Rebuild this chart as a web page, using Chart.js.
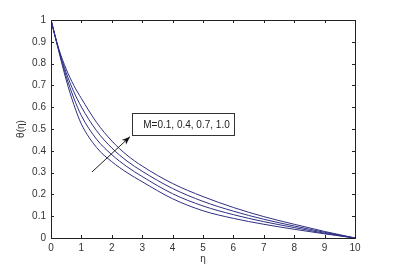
<!DOCTYPE html>
<html>
<head>
<meta charset="utf-8">
<script src="https://cdn.jsdelivr.net/npm/chart.js@4/dist/chart.umd.min.js"></script>
<style>
  html, body { margin: 0; padding: 0; background: #fff; }
</style>
</head>
<body>
<canvas id="chart" width="393" height="268"></canvas>
<script>
// eta values and the four theta(eta) curves (top to bottom)
const eta = [0, 0.25, 0.5, 0.75, 1, 1.5, 2, 2.5, 3, 4, 5, 6, 7, 8, 9, 10];
const theta_1 = [1, 0.87, 0.775, 0.70, 0.64, 0.53, 0.445, 0.38, 0.33, 0.25, 0.19, 0.14, 0.098, 0.063, 0.03, 0];
const theta_2 = [1, 0.867, 0.758, 0.671, 0.601, 0.492, 0.413, 0.353, 0.306, 0.227, 0.168, 0.123, 0.086, 0.055, 0.026, 0];
const theta_3 = [1, 0.863, 0.742, 0.642, 0.561, 0.453, 0.382, 0.327, 0.282, 0.203, 0.147, 0.107, 0.075, 0.048, 0.022, 0];
const theta_4 = [1, 0.86, 0.725, 0.6125, 0.5225, 0.415, 0.35, 0.30, 0.258, 0.18, 0.125, 0.09, 0.063, 0.04, 0.019, 0];
const all_curves = [theta_1, theta_2, theta_3, theta_4];

const x_ticks = [0, 1, 2, 3, 4, 5, 6, 7, 8, 9, 10];
const y_ticks = [0, 0.1, 0.2, 0.3, 0.4, 0.5, 0.6, 0.7, 0.8, 0.9, 1];

// annotation, in data units
const note_text = 'M=0.1, 0.4, 0.7, 1.0';
const note_box = { x0: 2.66, x1: 6.02, y0: 0.472, y1: 0.573 };
const note_arrow = { x0: 1.35, y0: 0.303, x1: 2.6, y1: 0.465 };

const line_color = '#2e2e82';
const font_family = '"Liberation Sans", Arial, sans-serif';

let datas = [];
for (const curve of all_curves) {
    datas.push({
        data: eta.map((x, i) => ({ x: x, y: curve[i] })),
        borderColor: line_color,
        borderWidth: 1,
        pointRadius: 0,
        fill: false,
        cubicInterpolationMode: 'monotone'
    });
}

const matlabFrame = {
    id: 'matlabFrame',
    afterDraw(chart) {
        const ctx = chart.ctx;
        const a = chart.chartArea;
        const xs = chart.scales.x;
        const ys = chart.scales.y;
        ctx.save();
        ctx.strokeStyle = '#222';
        ctx.lineWidth = 1;
        ctx.strokeRect(Math.round(a.left) + 0.5, Math.round(a.top) + 0.5,
            Math.round(a.right - a.left), Math.round(a.bottom - a.top));
        ctx.beginPath();
        for (const t of x_ticks) {
            const px = Math.round(xs.getPixelForValue(t)) + 0.5;
            ctx.moveTo(px, a.bottom); ctx.lineTo(px, a.bottom - 3);
            ctx.moveTo(px, a.top); ctx.lineTo(px, a.top + 3);
        }
        for (const t of y_ticks) {
            const py = Math.round(ys.getPixelForValue(t)) + 0.5;
            ctx.moveTo(a.left, py); ctx.lineTo(a.left + 3, py);
            ctx.moveTo(a.right, py); ctx.lineTo(a.right - 3, py);
        }
        ctx.stroke();

        // text box
        const bx0 = Math.round(xs.getPixelForValue(note_box.x0)) + 0.5;
        const bx1 = Math.round(xs.getPixelForValue(note_box.x1)) + 0.5;
        const by0 = Math.round(ys.getPixelForValue(note_box.y1)) + 0.5;
        const by1 = Math.round(ys.getPixelForValue(note_box.y0)) + 0.5;
        ctx.fillStyle = '#fff';
        ctx.fillRect(bx0, by0, bx1 - bx0, by1 - by0);
        ctx.strokeStyle = '#333';
        ctx.strokeRect(bx0, by0, bx1 - bx0, by1 - by0);
        ctx.fillStyle = '#222';
        ctx.font = '10px ' + font_family;
        ctx.textAlign = 'center';
        ctx.textBaseline = 'middle';
        ctx.fillText(note_text, (bx0 + bx1) / 2 + 3, (by0 + by1) / 2 + 1);

        // arrow
        const ax0 = xs.getPixelForValue(note_arrow.x0);
        const ay0 = ys.getPixelForValue(note_arrow.y0);
        const ax1 = xs.getPixelForValue(note_arrow.x1);
        const ay1 = ys.getPixelForValue(note_arrow.y1);
        const ang = Math.atan2(ay1 - ay0, ax1 - ax0);
        ctx.strokeStyle = '#222';
        ctx.beginPath();
        ctx.moveTo(ax0, ay0); ctx.lineTo(ax1, ay1);
        ctx.stroke();
        ctx.fillStyle = '#111';
        ctx.beginPath();
        ctx.moveTo(ax1, ay1);
        ctx.lineTo(ax1 - 9 * Math.cos(ang - 0.35), ay1 - 9 * Math.sin(ang - 0.35));
        ctx.lineTo(ax1 - 6 * Math.cos(ang), ay1 - 6 * Math.sin(ang));
        ctx.lineTo(ax1 - 9 * Math.cos(ang + 0.35), ay1 - 9 * Math.sin(ang + 0.35));
        ctx.closePath();
        ctx.fill();
        ctx.restore();
    }
};

new Chart(document.getElementById('chart'), {
    type: 'line',
    data: { datasets: datas },
    plugins: [matlabFrame],
    options: {
        responsive: false,
        animation: false,
        layout: { padding: { top: 20, right: 38, left: 0, bottom: 0 } },
        plugins: { legend: { display: false }, tooltip: { enabled: false } },
        scales: {
            x: {
                type: 'linear',
                min: 0,
                max: 10,
                afterFit: (s) => { s.height = 30; },
                afterBuildTicks: (s) => { s.ticks = x_ticks.map(v => ({ value: v })); },
                grid: { display: false, drawTicks: false },
                border: { display: false },
                ticks: { padding: 4, color: '#333', font: { family: font_family, size: 10 }, maxRotation: 0,
                    callback: (v) => String(v) },
                title: { display: true, text: 'η', color: '#333', font: { family: font_family, size: 10 }, padding: { top: 0, bottom: 3 } }
            },
            y: {
                type: 'linear',
                min: 0,
                max: 1,
                afterFit: (s) => { s.width = 51; },
                afterBuildTicks: (s) => { s.ticks = y_ticks.map(v => ({ value: v })); },
                grid: { display: false, drawTicks: false },
                border: { display: false },
                ticks: { padding: 5, color: '#333', font: { family: font_family, size: 10 },
                    callback: (v) => String(v) },
                title: { display: true, text: 'θ(η)', color: '#333', font: { family: font_family, size: 10 }, padding: { top: 15, bottom: 0 } }
            }
        }
    }
});
</script>
</body>
</html>
